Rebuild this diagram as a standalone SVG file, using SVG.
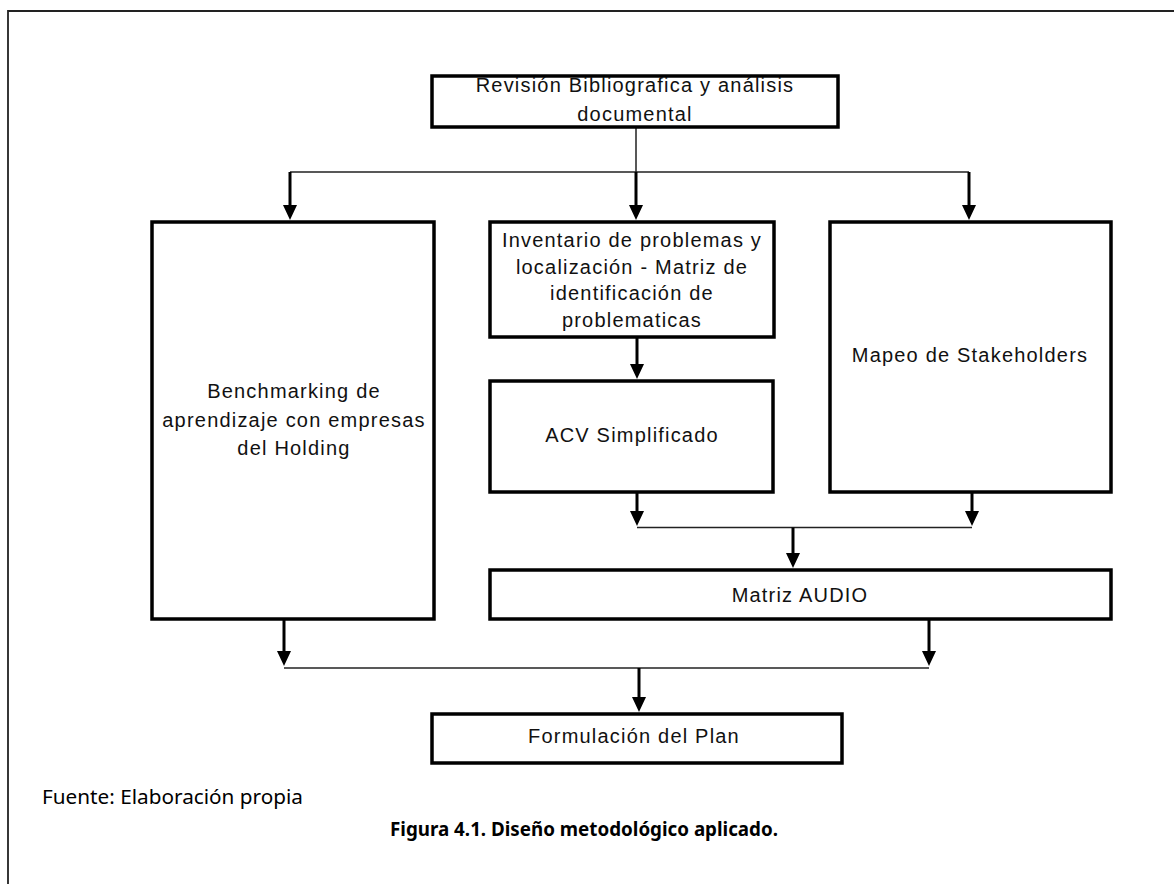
<svg xmlns="http://www.w3.org/2000/svg" width="1174" height="884" viewBox="0 0 1174 884">
<defs>
<style>
.box{fill:#fff;stroke:#000;stroke-width:3.5}
.t{font-family:"Liberation Sans",Arial,sans-serif;font-size:20px;letter-spacing:1.2px;fill:#111;text-anchor:middle}
.thin{stroke:#222;stroke-width:1.5;fill:none}
.arr{stroke:#000;stroke-width:3;fill:none;marker-end:url(#ah)}
.cap{font-family:"Noto Sans","Open Sans",sans-serif;fill:#000}
</style>
<marker id="ah" markerUnits="userSpaceOnUse" markerWidth="16" markerHeight="16" viewBox="0 0 16 16" refX="2" refY="8" orient="auto">
<path d="M0,1 L15,8 L0,15 z" fill="#000"/>
</marker>
</defs>
<rect width="1174" height="884" fill="#fff"/>
<g id="frame">
<path d="M8,884 V11 H1174" fill="none" stroke="#222" stroke-width="1.8"/>
</g>
<g id="connectors">
<path class="thin" d="M636,127 V172 M290,172 H969"/>
<line class="arr" x1="290" y1="172" x2="290" y2="207"/>
<line class="arr" x1="636" y1="172" x2="636" y2="207"/>
<line class="arr" x1="969" y1="172" x2="969" y2="207"/>
<line class="arr" x1="637" y1="337" x2="637" y2="366"/>
<line class="arr" x1="637" y1="492" x2="637" y2="513"/>
<line class="arr" x1="972" y1="492" x2="972" y2="513"/>
<path class="thin" d="M637,527.5 H972"/>
<line class="arr" x1="793" y1="527.5" x2="793" y2="555"/>
<line class="arr" x1="284" y1="619" x2="284" y2="653"/>
<line class="arr" x1="929" y1="619" x2="929" y2="653"/>
<path class="thin" d="M284,668 H929"/>
<line class="arr" x1="639" y1="668" x2="639" y2="699"/>
</g>
<g id="n-revision">
<rect class="box" x="432" y="76" width="406" height="51"/>
<text class="t" x="635" y="92">Revisión Bibliografica y análisis</text>
<text class="t" x="635" y="121">documental</text>
</g>
<g id="n-benchmarking">
<rect class="box" x="152" y="222" width="282" height="397"/>
<text class="t" x="294" y="398">Benchmarking de</text>
<text class="t" x="294" y="427">aprendizaje con empresas</text>
<text class="t" x="294" y="455">del Holding</text>
</g>
<g id="n-inventario">
<rect class="box" x="490" y="222" width="284" height="115"/>
<text class="t" x="632" y="247">Inventario de problemas y</text>
<text class="t" x="632" y="274">localización - Matriz de</text>
<text class="t" x="632" y="300">identificación de</text>
<text class="t" x="632" y="327">problematicas</text>
</g>
<g id="n-acv">
<rect class="box" x="490" y="381" width="283" height="111"/>
<text class="t" x="632" y="442">ACV Simplificado</text>
</g>
<g id="n-mapeo">
<rect class="box" x="830" y="222" width="281" height="270"/>
<text class="t" x="970" y="362">Mapeo de Stakeholders</text>
</g>
<g id="n-matriz">
<rect class="box" x="490" y="570" width="621" height="49"/>
<text class="t" x="800" y="602">Matriz AUDIO</text>
</g>
<g id="n-formulacion">
<rect class="box" x="432" y="714" width="410" height="49"/>
<text class="t" x="634" y="743">Formulación del Plan</text>
</g>
<g id="captions">
<text class="cap" x="42" y="804" font-size="19" textLength="261" lengthAdjust="spacingAndGlyphs">Fuente: Elaboración propia</text>
<text class="cap" x="390" y="836" font-size="19" font-weight="bold" textLength="388" lengthAdjust="spacingAndGlyphs">Figura 4.1. Diseño metodológico aplicado.</text>
</g>
</svg>
